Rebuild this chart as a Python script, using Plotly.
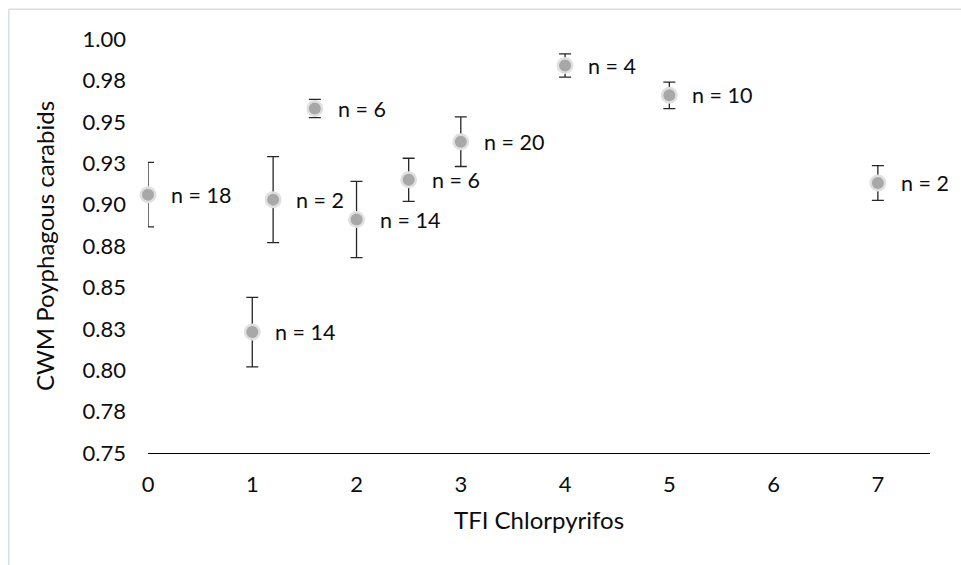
import plotly.graph_objects as go

# TFI chlorpyrifos vs community-weighted mean of polyphagous carabids
tfi = [0, 1, 1.2, 1.6, 2, 2.5, 3, 4, 5, 7]
cwm = [0.906, 0.823, 0.903, 0.958, 0.891, 0.915, 0.938, 0.984, 0.966, 0.913]
err = [0.0195, 0.021, 0.026, 0.0055, 0.023, 0.013, 0.015, 0.007, 0.008, 0.0105]
n_labels = ["n = 18", "n = 14", "n = 2", "n = 6", "n = 14", "n = 6", "n = 20", "n = 4", "n = 10", "n = 2"]

x_ticks = [0, 1, 2, 3, 4, 5, 6, 7]
y_ticks = [0.75, 0.775, 0.80, 0.825, 0.85, 0.875, 0.90, 0.925, 0.95, 0.975, 1.00]
y_ticktext = ["0.75", "0.78", "0.80", "0.83", "0.85", "0.88", "0.90", "0.93", "0.95", "0.98", "1.00"]

FONT = "Lato"
TXT = "#0d0d0d"

fig = go.Figure()

# error bars (clipped to the plotting area)
fig.add_trace(go.Scatter(
    x=tfi, y=cwm, mode="markers",
    marker=dict(size=1, opacity=0),
    error_y=dict(type="data", array=err, visible=True,
                 color="#262626", thickness=1.3, width=6),
    cliponaxis=True, hoverinfo="skip", showlegend=False,
))

# mean points
fig.add_trace(go.Scatter(
    x=tfi, y=cwm, mode="markers",
    marker=dict(size=14.5, color="#A8A8A8",
                line=dict(color="#E0E0E0", width=2.5)),
    cliponaxis=False, showlegend=False,
))

# sample-size labels to the right of each point
for xv, yv, lab in zip(tfi, cwm, n_labels):
    fig.add_annotation(x=xv, y=yv, text=lab, showarrow=False,
                       xanchor="left", yanchor="middle", xshift=21,
                       font=dict(family=FONT, size=21.5, color=TXT))

# light chart frame edges
frame = "#D9DDE4"
fig.add_shape(type="line", xref="paper", yref="paper",
              x0=-0.178, x1=-0.178, y0=1.072, y1=-0.28,
              line=dict(color=frame, width=1.5))
fig.add_shape(type="line", xref="paper", yref="paper",
              x0=-0.178, x1=1.05, y0=1.072, y1=1.072,
              line=dict(color=frame, width=1.5))

fig.update_layout(
    width=961, height=565,
    margin=dict(l=148, r=31, t=39, b=112),
    paper_bgcolor="white", plot_bgcolor="white",
    font=dict(family=FONT, size=21, color=TXT),
    xaxis=dict(
        range=[0, 7.5], tickvals=x_ticks,
        showline=True, linecolor="#000000", linewidth=1.2,
        showgrid=False, zeroline=False, ticks="",
        ticklabelstandoff=11,
        tickfont=dict(family=FONT, size=22, color=TXT),
        title=dict(text="TFI Chlorpyrifos", standoff=16,
                   font=dict(family=FONT, size=24, color=TXT)),
    ),
    yaxis=dict(
        range=[0.75, 1.0], tickvals=y_ticks, ticktext=y_ticktext,
        showline=False, showgrid=False, zeroline=False, ticks="",
        ticklabelstandoff=21,
        tickfont=dict(family=FONT, size=22, color=TXT),
        title=dict(text="CWM Poyphagous carabids", standoff=21,
                   font=dict(family=FONT, size=24, color=TXT)),
    ),
)

fig.write_html("out.html")
